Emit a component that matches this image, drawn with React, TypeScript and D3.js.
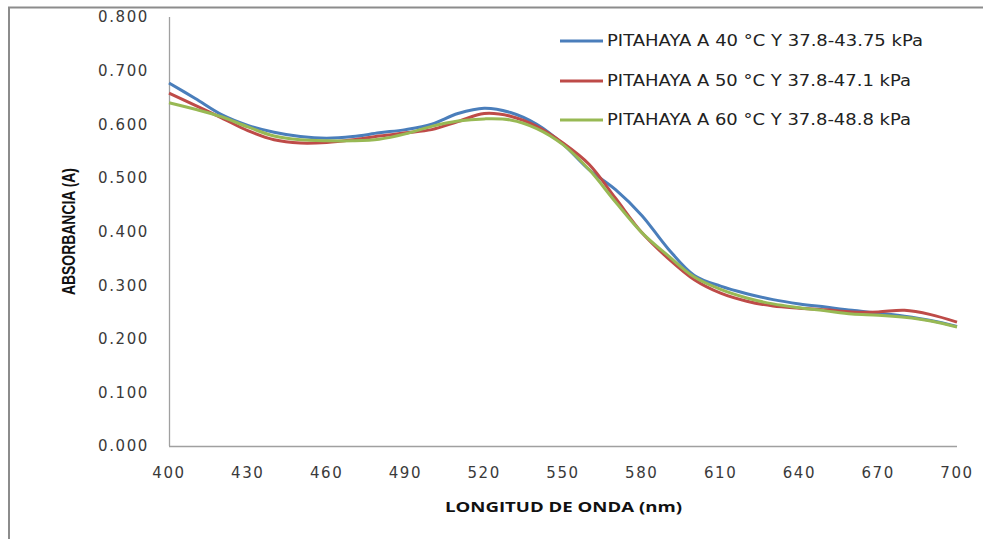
import { useEffect, useRef } from 'react';
import * as d3 from 'd3';

const wavelengths = [400, 410, 420, 430, 440, 450, 460, 470, 480, 490, 500, 510, 520, 530, 540, 550, 560, 570, 580, 590, 600, 610, 620, 630, 640, 650, 660, 670, 680, 690, 700];

const abs40 = [0.677, 0.648, 0.618, 0.598, 0.585, 0.577, 0.574, 0.577, 0.584, 0.590, 0.600, 0.620, 0.630, 0.622, 0.600, 0.563, 0.515, 0.478, 0.430, 0.368, 0.318, 0.298, 0.284, 0.273, 0.265, 0.259, 0.253, 0.248, 0.242, 0.234, 0.223];
const abs50 = [0.658, 0.635, 0.612, 0.588, 0.571, 0.565, 0.566, 0.571, 0.578, 0.584, 0.590, 0.605, 0.620, 0.615, 0.596, 0.565, 0.525, 0.462, 0.398, 0.350, 0.310, 0.285, 0.270, 0.261, 0.257, 0.254, 0.250, 0.250, 0.253, 0.245, 0.231];
const abs60 = [0.640, 0.628, 0.614, 0.595, 0.578, 0.571, 0.569, 0.569, 0.572, 0.582, 0.596, 0.606, 0.610, 0.608, 0.592, 0.562, 0.515, 0.455, 0.398, 0.355, 0.315, 0.292, 0.276, 0.265, 0.258, 0.252, 0.246, 0.244, 0.240, 0.233, 0.222];

const seriesNames = [
    'PITAHAYA A 40 °C Y 37.8-43.75 kPa',
    'PITAHAYA A 50 °C Y 37.8-47.1 kPa',
    'PITAHAYA A 60 °C Y 37.8-48.8 kPa',
];
const seriesColors = ['#4a7ebb', '#be4b48', '#98b954'];

const xTicks = [400, 430, 460, 490, 520, 550, 580, 610, 640, 670, 700];
const yTicks = [0, 0.1, 0.2, 0.3, 0.4, 0.5, 0.6, 0.7, 0.8];

export default function App() {
    const svgRef = useRef<SVGSVGElement>(null);

    useEffect(() => {
        if (!svgRef.current) return;
        const svg = d3.select(svgRef.current);
        svg.selectAll('*').remove();

        const font = '"DejaVu Sans", Verdana, sans-serif';

        // outer chart border
        svg.append('rect')
            .attr('x', 9).attr('y', 7.5)
            .attr('width', 1000).attr('height', 600)
            .attr('fill', 'white')
            .attr('stroke', '#8c8c8c').attr('stroke-width', 2);

        const x = d3.scaleLinear().domain([400, 700]).range([169, 957]);
        const y = d3.scaleLinear().domain([0, 0.8]).range([446, 17]);

        // axes lines
        svg.append('line')
            .attr('x1', 169.5).attr('x2', 169.5)
            .attr('y1', y(0.8)).attr('y2', y(0))
            .attr('stroke', '#a0a0a0').attr('stroke-width', 1.3);
        svg.append('line')
            .attr('x1', 169).attr('x2', 957)
            .attr('y1', 446.5).attr('y2', 446.5)
            .attr('stroke', '#a0a0a0').attr('stroke-width', 1.3);

        // y tick labels
        svg.selectAll('.ytick')
            .data(yTicks)
            .enter()
            .append('text')
            .attr('class', 'ytick')
            .attr('x', 149)
            .attr('y', d => y(d))
            .attr('dy', '0.36em')
            .attr('text-anchor', 'end')
            .attr('font-family', font)
            .attr('font-size', 15)
            .attr('letter-spacing', 1.6)
            .attr('fill', '#3a3a3a')
            .text(d => d.toFixed(3));

        // x tick labels
        svg.selectAll('.xtick')
            .data(xTicks)
            .enter()
            .append('text')
            .attr('class', 'xtick')
            .attr('x', d => x(d))
            .attr('y', 473)
            .attr('dy', '0.36em')
            .attr('text-anchor', 'middle')
            .attr('font-family', font)
            .attr('font-size', 15)
            .attr('letter-spacing', 1.6)
            .attr('fill', '#3a3a3a')
            .text(d => d);

        // axis titles
        svg.append('text')
            .attr('x', 445).attr('y', 507)
            .attr('dy', '0.36em')
            .attr('font-family', '"Open Sans", sans-serif')
            .attr('font-weight', 'bold')
            .attr('font-size', 14)
            .attr('textLength', 237)
            .attr('lengthAdjust', 'spacingAndGlyphs')
            .attr('fill', '#111')
            .text('LONGITUD DE ONDA (nm)');

        svg.append('text')
            .attr('transform', 'translate(68,295) rotate(-90)')
            .attr('dy', '0.36em')
            .attr('font-family', '"Liberation Sans Narrow", "Liberation Sans", sans-serif')
            .attr('font-weight', 'bold')
            .attr('font-size', 19)
            .attr('textLength', 127)
            .attr('lengthAdjust', 'spacingAndGlyphs')
            .attr('fill', '#111')
            .text('ABSORBANCIA (A)');

        // series
        const series = [abs40, abs50, abs60];
        const line = d3.line<number>()
            .x((_, i) => x(wavelengths[i]))
            .y(d => y(d))
            .curve(d3.curveCatmullRom.alpha(0.5));

        series.forEach((vals, i) => {
            svg.append('path')
                .datum(vals)
                .attr('d', line)
                .attr('fill', 'none')
                .attr('stroke', seriesColors[i])
                .attr('stroke-width', 3)
                .attr('stroke-linejoin', 'round');
        });

        // legend
        const legendY = [41, 81, 120];
        const legendLen = [316, 304, 304];
        seriesNames.forEach((name, i) => {
            svg.append('line')
                .attr('x1', 560).attr('x2', 603)
                .attr('y1', legendY[i]).attr('y2', legendY[i])
                .attr('stroke', seriesColors[i])
                .attr('stroke-width', 3);
            svg.append('text')
                .attr('x', 607).attr('y', legendY[i])
                .attr('dy', '0.36em')
                .attr('font-family', font)
                .attr('font-size', 15)
                .attr('textLength', legendLen[i])
                .attr('lengthAdjust', 'spacingAndGlyphs')
                .attr('fill', '#222')
                .text(name);
        });
    }, []);

    return (
        <svg
            ref={svgRef}
            width={983}
            height={539}
            style={{ position: 'absolute', left: 0, top: 0, background: 'white' }}
        />
    );
}
